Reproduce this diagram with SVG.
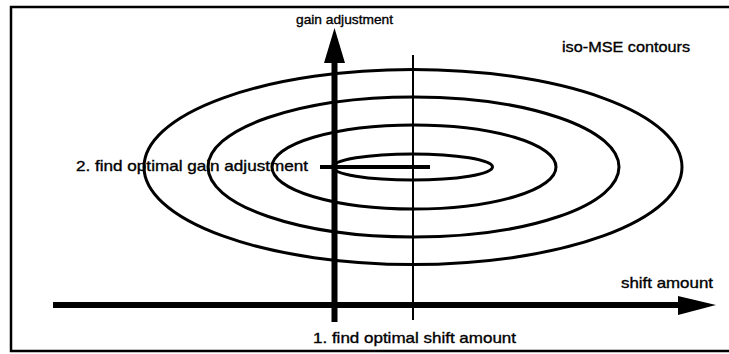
<svg xmlns="http://www.w3.org/2000/svg" width="729" height="354" viewBox="0 0 729 354">
<style>
.frame{fill:none;stroke:#000;stroke-width:2.5}
.contour{fill:none;stroke:#000;stroke-width:3}
.axis{stroke:#000;stroke-width:6;fill:none}
.thin{stroke:#000;stroke-width:2;fill:none}
.head{fill:#000;stroke:none}
text{font-family:"Liberation Sans",Arial,sans-serif;font-size:15px;fill:#000;stroke:#000;stroke-width:0.35}
</style>
<rect width="729" height="354" fill="#fff"/>
<path class="frame" d="M729,7 H11 V351 H729"/>
<g id="contours">
<ellipse class="contour" cx="413" cy="167" rx="269" ry="97.5"/>
<ellipse class="contour" cx="413.5" cy="167" rx="205.5" ry="70"/>
<ellipse class="contour" cx="414" cy="167" rx="142" ry="42"/>
<ellipse class="contour" cx="412.5" cy="167" rx="80" ry="13"/>
</g>
<g id="connectors">
<line class="axis" x1="334.5" y1="322" x2="334.5" y2="60"/>
<polygon class="head" points="324,63 345,63 334.5,28"/>
<line class="axis" x1="53" y1="305" x2="680" y2="305"/>
<polygon class="head" points="678,296 678,315 716,305"/>
<line class="thin" x1="413" y1="55" x2="413" y2="320"/>
<line x1="320" y1="167" x2="430" y2="167" stroke="#000" stroke-width="4"/>
</g>
<g id="labels">
<text x="296" y="24" style="font-size:13.5px" textLength="97" lengthAdjust="spacingAndGlyphs">gain adjustment</text>
<text x="562" y="52" textLength="128" lengthAdjust="spacingAndGlyphs">iso-MSE contours</text>
<text x="76" y="171" textLength="232" lengthAdjust="spacingAndGlyphs">2. find optimal gain adjustment</text>
<text x="621" y="288" textLength="92" lengthAdjust="spacingAndGlyphs">shift amount</text>
<text x="313" y="343" textLength="203" lengthAdjust="spacingAndGlyphs">1. find optimal shift amount</text>
</g>
</svg>
